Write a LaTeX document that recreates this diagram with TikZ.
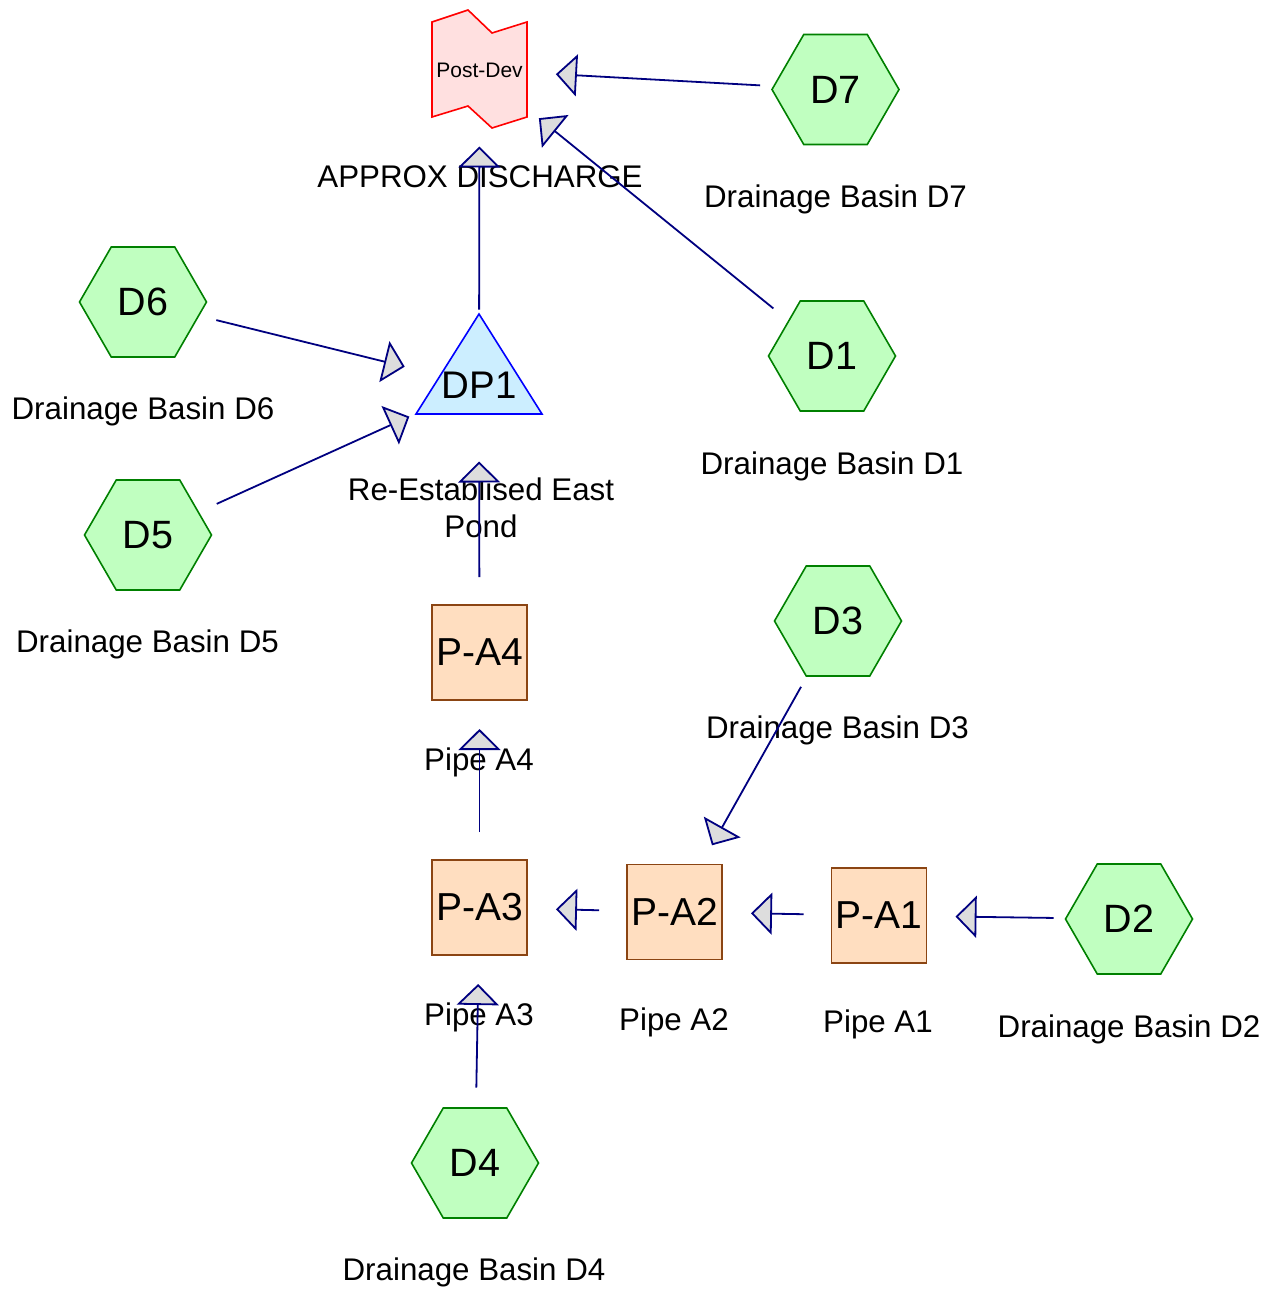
\documentclass[tikz,border=0pt]{standalone}
\usepackage{fontspec}
\setmainfont{Liberation Sans}
\usetikzlibrary{shapes.geometric,arrows.meta,backgrounds}
\definecolor{edgec}{HTML}{000080}
\definecolor{tipfill}{HTML}{DDDDDD}
\definecolor{hexfill}{HTML}{C0FFC0}
\definecolor{hexdraw}{HTML}{008000}
\definecolor{pipefill}{HTML}{FFDEC0}
\definecolor{pipedraw}{HTML}{8B4513}
\definecolor{dpfill}{HTML}{CCEEFF}
\definecolor{pdfill}{HTML}{FFE0E0}
\begin{document}
\begin{tikzpicture}[x=1pt,y=-1pt,
  basin/.style={regular polygon, regular polygon sides=6, minimum size=127pt, inner sep=0pt, outer sep=0pt, draw=hexdraw, fill=hexfill, line width=1.6pt, font=\fontsize{39.5}{44}\selectfont},
  pipe/.style={rectangle, minimum size=95pt, inner sep=0pt, outer sep=0pt, draw=pipedraw, fill=pipefill, line width=1.6pt, font=\fontsize{39}{44}\selectfont},
  lbl/.style={anchor=base, inner sep=0pt, font=\fontsize{31.3}{37}\selectfont},
  flow/.style={draw=edgec, line width=1.8pt, shorten <=75.5pt, shorten >=76.5pt, -{Triangle[length=21pt,width=42pt,fill=tipfill]}},
]
\path[use as bounding box] (0,0) rectangle (1274,1290);

% main shapes
\node[inner sep=0pt, minimum width=95pt, minimum height=118pt, font=\fontsize{21}{24}\selectfont] (PD) at (479.5,70) {Post-Dev};
\node[inner sep=0pt, font=\fontsize{38.5}{44}\selectfont] (DP1) at (479,385) {DP1};
\begin{pgfonlayer}{background}
\fill[white] (0,0) rectangle (1274,1290);
\draw[red, line width=1.6pt, fill=pdfill, shift={(PD.center)}]
  (-47.5,-48) -- (-11.5,-60) -- (12.5,-37) -- (47.5,-48) -- (47.5,47) -- (12.5,58) -- (-11.5,36) -- (-47.5,47) -- cycle;
\draw[blue, line width=1.6pt, fill=dpfill, shift={(DP1.center)}]
  (0,-71) -- (63,29) -- (-63,29) -- cycle;
\end{pgfonlayer}

\node[basin] (D7) at (835.5,89.5) {D7};
\node[basin] (D1) at (832,356) {D1};
\node[basin] (D6) at (143,302) {D6};
\node[basin] (D5) at (148,535) {D5};
\node[basin] (D3) at (838,621) {D3};
\node[basin] (D2) at (1129,919) {D2};
\node[basin] (D4) at (475,1163) {D4};

\node[pipe] (PA4) at (479.5,652.5) {P-A4};
\node[pipe] (PA3) at (479.5,907.5) {P-A3};
\node[pipe] (PA2) at (674.5,912) {P-A2};
\node[pipe] (PA1) at (879,915.5) {P-A1};

% labels
\node[lbl] (lPD) at (480,187) {APPROX DISCHARGE};
\node[lbl] (lD7) at (835.5,207) {Drainage Basin D7};
\node[lbl] (lD1) at (832,474) {Drainage Basin D1};
\node[lbl] (lD6) at (143,419) {Drainage Basin D6};
\node[lbl] (lD5) at (147.5,652) {Drainage Basin D5};
\node[lbl] (lD3) at (837.5,738) {Drainage Basin D3};
\node[lbl] (lD2) at (1129,1037) {Drainage Basin D2};
\node[lbl] (lD4) at (474,1280) {Drainage Basin D4};
\node[lbl] (lPA4) at (479,770) {Pipe A4};
\node[lbl] (lPA3) at (479,1025) {Pipe A3};
\node[lbl] (lPA2) at (674,1030) {Pipe A2};
\node[lbl] (lPA1) at (878,1032) {Pipe A1};
\node[lbl, align=center] (lDP1) at (481,537) {Re-Establised East\\Pond};

% connectors
\draw[flow] (D7.center) -- (PD.center);
\draw[flow] (D1.center) -- (PD.center);
\draw[flow] (DP1.center) -- (PD.center);
\draw[flow] (D6.center) -- (DP1.center);
\draw[flow] (D5.center) -- (DP1.center);
\draw[flow] (PA4.center) -- (DP1.center);
\draw[flow] (PA3.center) -- (PA4.center);
\draw[flow] (D4.center) -- (PA3.center);
\draw[flow] (PA2.center) -- (PA3.center);
\draw[flow] (PA1.center) -- (PA2.center);
\draw[flow] (D2.center) -- (PA1.center);
\draw[flow] (D3.center) -- (PA2.center);
\end{tikzpicture}
\end{document}
